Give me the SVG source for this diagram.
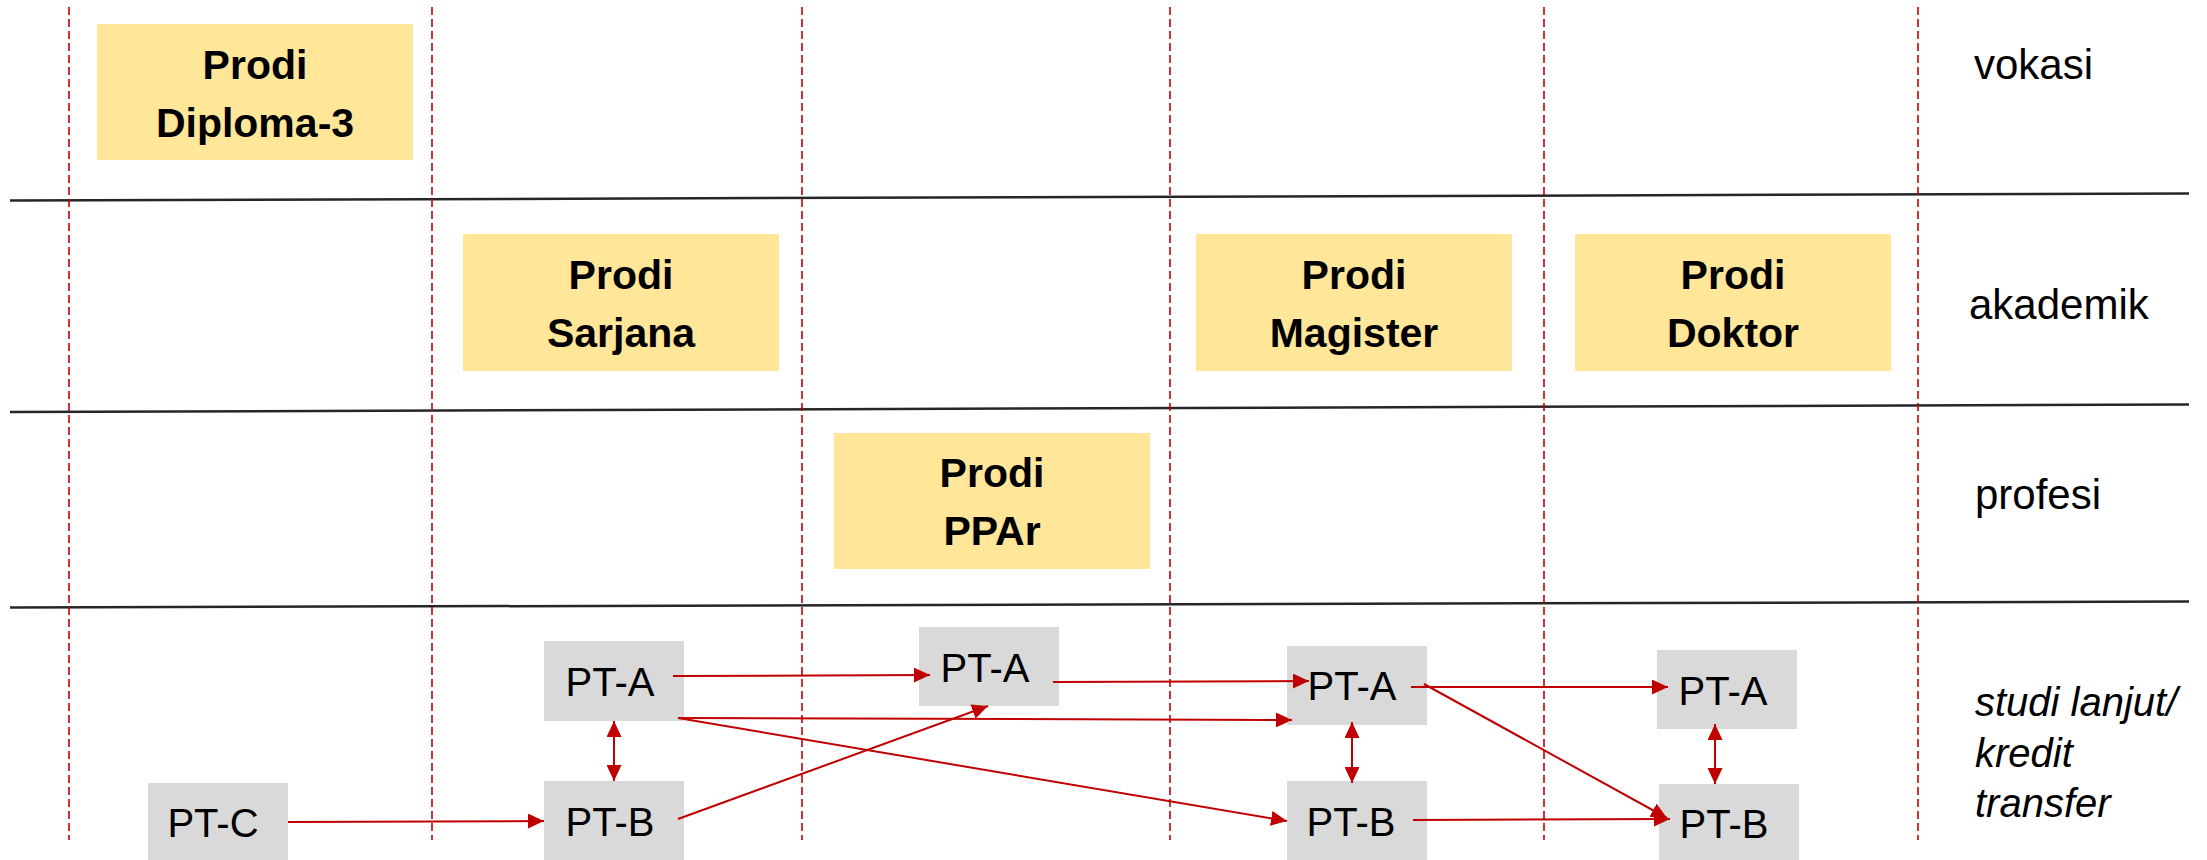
<svg xmlns="http://www.w3.org/2000/svg" width="2207" height="860" viewBox="0 0 2207 860">
  <style>
    .bg { fill: #ffffff; }
    .sep { stroke: #262626; stroke-width: 2.5; fill: none; }
    .col { stroke: #C00000; stroke-width: 1.6; stroke-dasharray: 8 4; fill: none; }
    .prodi { fill: #FFE699; }
    .pt { fill: #D9D9D9; }
    .bold { font-family: "Liberation Sans", Arial, sans-serif; font-weight: bold; font-size: 41px; fill: #000; text-anchor: middle; }
    .ptt { font-family: "Liberation Sans", Arial, sans-serif; font-size: 40px; fill: #000; text-anchor: middle; }
    .lab { font-family: "Liberation Sans", Arial, sans-serif; font-size: 42px; fill: #000; }
    .ital { font-family: "Liberation Sans", Arial, sans-serif; font-size: 40px; font-style: italic; fill: #000; }
    .arr { stroke: #C00000; stroke-width: 2; fill: none; marker-end: url(#ah); }
    .dbl { stroke: #C00000; stroke-width: 2; fill: none; marker-start: url(#ah); marker-end: url(#ah); }
  </style>
  <defs>
    <marker id="ah" markerUnits="userSpaceOnUse" markerWidth="16" markerHeight="15" refX="16" refY="7.5" orient="auto-start-reverse">
      <path d="M0,0 L16,7.5 L0,15 z" fill="#C00000"/>
    </marker>
  </defs>
  <rect class="bg" x="0" y="0" width="2207" height="860"/>

  <g id="grid">
    <line class="sep" x1="10" y1="200.5" x2="2189" y2="193.5"/>
    <line class="sep" x1="10" y1="412" x2="2189" y2="404.5"/>
    <line class="sep" x1="10" y1="607.5" x2="2189" y2="601.5"/>
    <line class="col" x1="69" y1="7" x2="69" y2="840"/>
    <line class="col" x1="432" y1="7" x2="432" y2="840"/>
    <line class="col" x1="802" y1="7" x2="802" y2="840"/>
    <line class="col" x1="1170" y1="7" x2="1170" y2="840"/>
    <line class="col" x1="1544" y1="7" x2="1544" y2="840"/>
    <line class="col" x1="1918" y1="7" x2="1918" y2="840"/>
  </g>

  <g id="lane-labels">
    <text class="lab" x="1974" y="79">vokasi</text>
    <text class="lab" x="1969" y="319">akademik</text>
    <text class="lab" x="1975" y="509">profesi</text>
    <text class="ital" x="1975" y="716">studi lanjut/</text>
    <text class="ital" x="1975" y="767">kredit</text>
    <text class="ital" x="1975" y="817">transfer</text>
  </g>

  <g id="prodi-d3">
    <rect class="prodi" x="97" y="24" width="316" height="136"/>
    <text class="bold" x="255" y="79">Prodi</text>
    <text class="bold" x="255" y="137">Diploma-3</text>
  </g>
  <g id="prodi-sarjana">
    <rect class="prodi" x="463" y="234" width="316" height="137"/>
    <text class="bold" x="621" y="289">Prodi</text>
    <text class="bold" x="621" y="347">Sarjana</text>
  </g>
  <g id="prodi-magister">
    <rect class="prodi" x="1196" y="234" width="316" height="137"/>
    <text class="bold" x="1354" y="289">Prodi</text>
    <text class="bold" x="1354" y="347">Magister</text>
  </g>
  <g id="prodi-doktor">
    <rect class="prodi" x="1575" y="234" width="316" height="137"/>
    <text class="bold" x="1733" y="289">Prodi</text>
    <text class="bold" x="1733" y="347">Doktor</text>
  </g>
  <g id="prodi-ppar">
    <rect class="prodi" x="834" y="433" width="316" height="136"/>
    <text class="bold" x="992" y="487">Prodi</text>
    <text class="bold" x="992" y="545">PPAr</text>
  </g>

  <g id="pt-c">
    <rect class="pt" x="148" y="783" width="140" height="80"/>
    <text class="ptt" x="213" y="837">PT-C</text>
  </g>
  <g id="pt-a1">
    <rect class="pt" x="544" y="641" width="140" height="80"/>
    <text class="ptt" x="610" y="696">PT-A</text>
  </g>
  <g id="pt-b1">
    <rect class="pt" x="544" y="781" width="140" height="80"/>
    <text class="ptt" x="610" y="836">PT-B</text>
  </g>
  <g id="pt-a2">
    <rect class="pt" x="919" y="627" width="140" height="79"/>
    <text class="ptt" x="985" y="682">PT-A</text>
  </g>
  <g id="pt-a3">
    <rect class="pt" x="1287" y="646" width="140" height="79"/>
    <text class="ptt" x="1352" y="700">PT-A</text>
  </g>
  <g id="pt-b3">
    <rect class="pt" x="1287" y="781" width="140" height="80"/>
    <text class="ptt" x="1351" y="836">PT-B</text>
  </g>
  <g id="pt-a4">
    <rect class="pt" x="1657" y="650" width="140" height="79"/>
    <text class="ptt" x="1723" y="705">PT-A</text>
  </g>
  <g id="pt-b4">
    <rect class="pt" x="1659" y="784" width="140" height="80"/>
    <text class="ptt" x="1724" y="838">PT-B</text>
  </g>

  <g id="connectors">
    <line class="arr" x1="673" y1="676" x2="930" y2="675"/>
    <line class="arr" x1="678" y1="718" x2="1292" y2="720"/>
    <line class="arr" x1="678" y1="718" x2="1287" y2="821"/>
    <line class="arr" x1="288" y1="822" x2="544" y2="821"/>
    <line class="arr" x1="678" y1="819" x2="988" y2="706"/>
    <line class="dbl" x1="614" y1="721" x2="614" y2="781"/>
    <line class="arr" x1="1053" y1="682" x2="1309" y2="681"/>
    <line class="arr" x1="1411" y1="687" x2="1668" y2="687"/>
    <line class="arr" x1="1424" y1="684" x2="1667" y2="818"/>
    <line class="arr" x1="1413" y1="820" x2="1670" y2="819"/>
    <line class="dbl" x1="1352" y1="722" x2="1352" y2="783"/>
    <line class="dbl" x1="1715" y1="724" x2="1715" y2="784"/>
  </g>
</svg>
